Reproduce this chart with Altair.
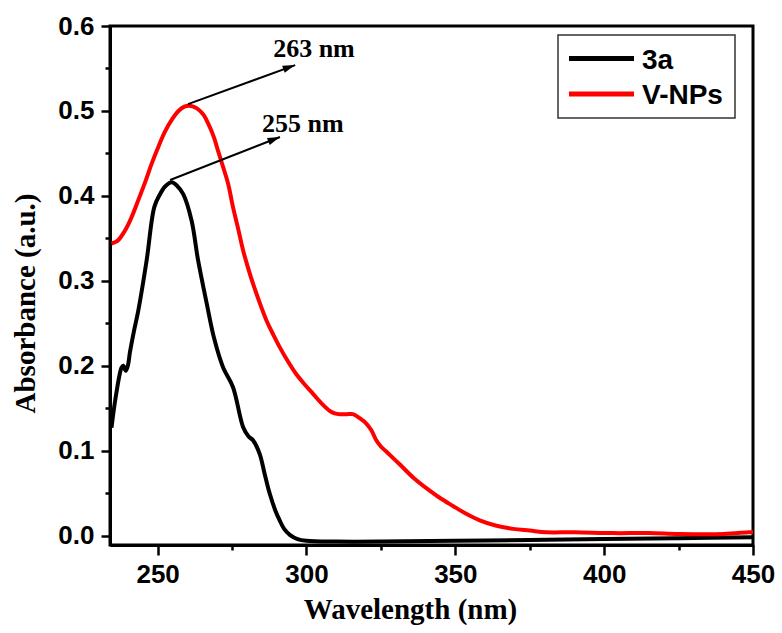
import altair as alt
import pandas as pd

# ---- data ----
series_names = ["3a", "V-NPs"]
series_colors = ["#000000", "#ff0000"]

wl_3a = [234.5, 236.0, 237.9, 238.5, 239.3, 240.0, 240.7, 242.0, 243.5, 246.3,
         248.9, 250.8, 252.5, 254.7, 256.5, 258.6, 261.4, 263.6, 266.4, 269.0,
         272.0, 275.3, 278.7, 280.5, 282.1, 284.3, 286.0, 287.7, 289.5, 291.0,
         292.5, 294.4, 297.0, 300.0, 310.0, 325.0, 350.0, 375.0, 400.0, 425.0, 450.0]
abs_3a = [0.127, 0.165, 0.198, 0.200, 0.194, 0.200, 0.216, 0.240, 0.265, 0.324,
          0.387, 0.402, 0.411, 0.416, 0.412, 0.402, 0.371, 0.324, 0.275, 0.232,
          0.198, 0.175, 0.128, 0.117, 0.112, 0.096, 0.072, 0.049, 0.030, 0.018,
          0.008, 0.001, -0.004, -0.006, -0.007, -0.007, -0.006, -0.005, -0.004, -0.003, -0.002]

wl_vnp = [234.5, 236.5, 239.0, 241.0, 243.5, 246.0, 248.0, 250.5, 252.5, 255.0,
          257.0, 259.0, 260.5, 262.0, 263.6, 265.5, 267.0, 268.8, 270.3, 272.0,
          273.7, 275.3, 277.0, 278.7, 280.4, 282.1, 284.3, 286.6, 288.8, 291.0,
          293.8, 296.6, 299.4, 302.2, 305.0, 307.8, 309.5, 311.2, 313.5, 315.6,
          318.0, 320.1, 321.8, 323.5, 325.0, 326.8, 331.3, 336.0, 341.4, 345.0,
          349.2, 353.5, 358.2, 363.5, 369.4, 375.0, 380.5, 390.0, 402.9, 415.0,
          425.3, 440.0, 448.7, 450.0]
abs_vnp = [0.344, 0.347, 0.359, 0.373, 0.395, 0.418, 0.438, 0.460, 0.476, 0.491,
           0.500, 0.505, 0.506, 0.505, 0.502, 0.495, 0.485, 0.470, 0.453, 0.434,
           0.414, 0.387, 0.362, 0.336, 0.315, 0.296, 0.274, 0.253, 0.237, 0.222,
           0.205, 0.190, 0.178, 0.167, 0.156, 0.147, 0.144, 0.143, 0.143, 0.143,
           0.138, 0.132, 0.124, 0.112, 0.105, 0.099, 0.084, 0.068, 0.053, 0.044,
           0.035, 0.026, 0.018, 0.012, 0.008, 0.006, 0.004, 0.004, 0.003, 0.003,
           0.002, 0.002, 0.004, 0.004]

x_ticks = [250, 275, 300, 325, 350, 375, 400, 425, 450]
y_ticks = [0.0, 0.05, 0.1, 0.15, 0.2, 0.25, 0.3, 0.35, 0.4, 0.45, 0.5, 0.55, 0.6]

ann_labels = ["263 nm", "255 nm"]
ann_text_x = [288.8, 285.1]
ann_text_y = [0.5635, 0.4752]
arrow_x0 = [260.2, 254.2]
arrow_y0 = [0.508, 0.4187]
arrow_x1 = [296.2, 291.1]
arrow_y1 = [0.554, 0.4693]
arrow_angle = [70, 68.6]

# ---- tables ----
df = pd.concat([
    pd.DataFrame({"wl": wl_3a, "A": abs_3a, "series": series_names[0]}),
    pd.DataFrame({"wl": wl_vnp, "A": abs_vnp, "series": series_names[1]}),
])

arrows_rows = []
for i in range(len(ann_labels)):
    arrows_rows.append({"id": i, "wl": arrow_x0[i], "A": arrow_y0[i], "pt": 0})
    arrows_rows.append({"id": i, "wl": arrow_x1[i], "A": arrow_y1[i], "pt": 1})
arrows_df = pd.DataFrame(arrows_rows)
heads_df = pd.DataFrame({"wl": arrow_x1, "A": arrow_y1, "ang": arrow_angle})
text_df = pd.DataFrame({"wl": ann_text_x, "A": ann_text_y, "label": ann_labels})
legend_df = pd.DataFrame({"series": series_names, "row": list(range(len(series_names)))})

XMIN, XMAX = 234, 450
YMIN, YMAX = -0.011, 0.6

xscale = alt.Scale(domain=[XMIN, XMAX], nice=False, zero=False)
yscale = alt.Scale(domain=[YMIN, YMAX], nice=False, zero=False)
cscale = alt.Scale(domain=series_names, range=series_colors)

x_axis = alt.Axis(
    values=x_ticks, format="d",
    labelExpr="datum.value % 50 === 0 ? datum.label : ''",
    tickSize={"condition": {"test": "datum.value % 50 === 0", "value": 10}, "value": 5},
    tickWidth=2.5, tickColor="black", domainWidth=3, domainColor="black",
    labelFont="Liberation Sans", labelFontWeight="bold", labelFontSize=26,
    labelColor="black", labelPadding=6, labelFlush=False, labelOverlap=False,
    grid=False, title="Wavelength (nm)", titleFont="Liberation Serif",
    titleFontWeight="bold", titleFontSize=29, titleColor="black",
    titleX=300, titleY=73, titleBaseline="alphabetic", titleAlign="center",
)
y_axis = alt.Axis(
    values=y_ticks,
    labelExpr="round(datum.value*100) % 10 === 0 ? format(datum.value, '.1f') : ''",
    tickSize={"condition": {"test": "round(datum.value*100) % 10 === 0", "value": 9}, "value": 5},
    tickWidth=2.5, tickColor="black", domainWidth=3, domainColor="black",
    labelFont="Liberation Sans", labelFontWeight="bold", labelFontSize=26,
    labelColor="black", labelPadding=7, labelOverlap=False, labelFlush=False,
    grid=False, title="Absorbance (a.u.)", titleFont="Liberation Serif",
    titleFontWeight="bold", titleFontSize=29, titleColor="black",
    titleX=-85, titleY=277, titleBaseline="middle", titleAlign="center", titleAngle=270,
)

lines = alt.Chart(df).mark_line(strokeWidth=4, interpolate="catmull-rom", clip=True).encode(
    x=alt.X("wl:Q", scale=xscale, axis=x_axis),
    y=alt.Y("A:Q", scale=yscale, axis=y_axis),
    color=alt.Color("series:N", scale=cscale, legend=None),
    detail="series:N",
)

arrow_lines = alt.Chart(arrows_df).mark_line(color="black", strokeWidth=2).encode(
    x=alt.X("wl:Q", scale=xscale),
    y=alt.Y("A:Q", scale=yscale),
    detail="id:N",
    order="pt:Q",
)

arrow_heads = alt.Chart(heads_df).mark_point(
    shape="M0,0L-0.75,2.5L0.75,2.5Z", size=100, filled=True, color="black", opacity=1,
).encode(
    x=alt.X("wl:Q", scale=xscale),
    y=alt.Y("A:Q", scale=yscale),
    angle=alt.Angle("ang:Q", scale=None),
)

ann_text = alt.Chart(text_df).mark_text(
    font="Liberation Serif", fontWeight="bold", fontSize=26, align="left",
    baseline="alphabetic", color="black",
).encode(
    x=alt.X("wl:Q", scale=xscale),
    y=alt.Y("A:Q", scale=yscale),
    text="label:N",
)

# legend drawn by hand (box, line samples, labels)
leg_box = alt.Chart(pd.DataFrame({"a": [0]})).mark_rect(
    fill="white", stroke="#333333", strokeWidth=1.5,
).encode(x=alt.value(448), x2=alt.value(625), y=alt.value(9), y2=alt.value(92))

leg_lines = alt.Chart(legend_df).transform_calculate(
    ly="32.5 + 35.5 * datum.row"
).mark_rule(strokeWidth=5).encode(
    x=alt.value(459), x2=alt.value(524),
    y=alt.Y("ly:Q", scale=None),
    color=alt.Color("series:N", scale=cscale, legend=None),
)

leg_text = alt.Chart(legend_df).transform_calculate(
    ly="42.5 + 35 * datum.row"
).mark_text(
    font="Liberation Sans", fontWeight="bold", fontSize=28, align="left",
    baseline="alphabetic", color="black",
).encode(
    x=alt.value(532),
    y=alt.Y("ly:Q", scale=None),
    text="series:N",
)

chart = alt.layer(
    lines, arrow_lines, arrow_heads, ann_text, leg_box, leg_lines, leg_text
).properties(
    width=643, height=519,
    autosize=alt.AutoSizeParams(type="none"),
    padding={"left": 110, "top": 26, "right": 29, "bottom": 88},
    background="white",
).configure_view(
    stroke="black", strokeWidth=3,
)

chart.save("out.html", embed_options={"renderer": "svg", "actions": False})
